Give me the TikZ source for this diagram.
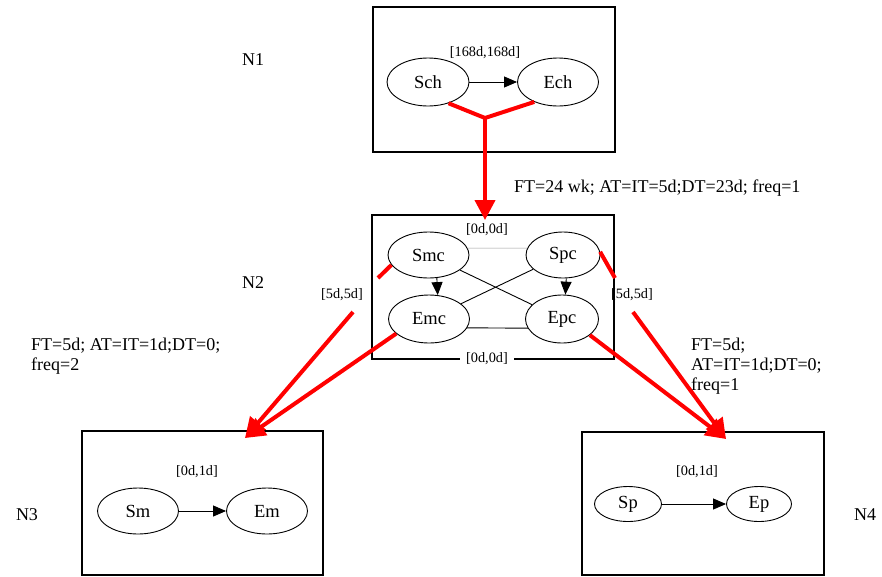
\documentclass[tikz,border=0pt]{standalone}
\usepackage{fontspec}
\setmainfont{Liberation Serif}
\usetikzlibrary{arrows.meta,calc,shapes.geometric}
\begin{document}
\begin{tikzpicture}[x=1pt,y=-1pt,
  ell/.style={draw,ellipse,inner sep=0pt,line width=0.9pt,font=\fontsize{18.5}{21}\selectfont},
  box/.style={draw,rectangle,inner sep=0pt,line width=1.2pt},
  big/.style={font=\fontsize{18}{20}\selectfont,inner sep=0pt},
  small/.style={font=\fontsize{14.3}{16}\selectfont,inner sep=1pt},
  blk/.style={line width=0.9pt},
  blkarrow/.style={line width=0.9pt,-{Triangle[length=13pt,width=11pt]}},
  redline/.style={draw=red,line width=4pt},
  redarrow/.style={draw=red,line width=4pt,-{Triangle[length=20pt,width=20pt]}},
  thin gray/.style={draw=black!40,line width=0.6pt}
]
\useasboundingbox (0,0) rectangle (882,576);

% cluster boxes
\node[box,minimum width=242pt,minimum height=145pt] (N1box) at (494,79.5) {};
\node[box,minimum width=242pt,minimum height=144pt] (N2box) at (493,287) {};
\node[box,minimum width=241pt,minimum height=144pt] (N3box) at (202.5,503) {};
\node[box,minimum width=242pt,minimum height=143pt] (N4box) at (703,503.5) {};

% cluster names
\node[big] (N1) at (253,60) {N1};
\node[big] (N2) at (253,283) {N2};
\node[big] (N3) at (27,515) {N3};
\node[big] (N4) at (865,515) {N4};

% N1
\node[ell,minimum width=82pt,minimum height=48pt] (Sch) at (428,82) {Sch};
\node[ell,minimum width=81pt,minimum height=48pt] (Ech) at (558,82) {Ech};
\node[small] (l168) at (485,53) {[168d,168d]};
\draw[blkarrow] (Sch) -- (Ech);

% N2
\node[ell,minimum width=81pt,minimum height=46pt] (Smc) at (428.5,255) {Smc};
\node[ell,minimum width=74pt,minimum height=46pt] (Spc) at (563,255) {Spc};
\node[ell,minimum width=81pt,minimum height=48pt] (Emc) at (429,319) {Emc};
\node[ell,minimum width=73pt,minimum height=48pt] (Epc) at (562,319) {Epc};
\node[small] (l00top) at (487,230) {[0d,0d]};
\draw[thin gray] (Smc.10) -- (Spc.169);
\draw[blk] (Smc) -- (Epc);
\draw[blk] (Spc) -- (Emc);
\draw[blk] (Emc.-13.5) -- (Epc.-165);
\draw[blkarrow] (Smc.-70) -- (Emc.70);
\draw[blkarrow] (Spc.-82) -- (Epc.82);
\node[small,fill=white,inner xsep=6pt] (l00bot) at (487,359) {[0d,0d]};

% N3
\node[ell,minimum width=81pt,minimum height=46pt] (Sm) at (138,511) {Sm};
\node[ell,minimum width=81pt,minimum height=46pt] (Em) at (267,511) {Em};
\node[small] (l01a) at (197,472) {[0d,1d]};
\draw[blkarrow] (Sm) -- (Em);

% N4
\node[ell,minimum width=67pt,minimum height=35pt] (Sp) at (628,504) {Sp};
\node[ell,minimum width=65pt,minimum height=35pt] (Ep) at (759,504) {Ep};
\node[small] (l01b) at (697,472) {[0d,1d]};
\draw[blkarrow] (Sp) -- (Ep);

% red connectors
\coordinate (J) at (485,118);
\coordinate (N2tip) at (485,220);
\draw[redline,line join=miter] (Sch.-46) -- (J) -- (Ech.-140);
\draw[redarrow] (J) -- (N2tip);

\coordinate (g1) at (378,278);
\coordinate (g2) at (353,312);
\coordinate (N3tip) at (245,438);
\draw[redline] (Smc.-165) -- (g1);
\draw[redarrow] (g2) -- (N3tip);
\draw[redarrow] (Emc.-156) -- (N3tip);

\coordinate (h1) at (615,278);
\coordinate (h2) at (633,312);
\coordinate (N4tip) at (726,439);
\draw[redline] (Spc.5) -- (h1);
\draw[redarrow] (h2) -- (N4tip);
\draw[redarrow] (Epc.-30) -- (N4tip);

\node[small] (l55a) at (342,295) {[5d,5d]};
\node[small] (l55b) at (632,295) {[5d,5d]};

% edge annotations
\node[big,anchor=base west] (t1) at (514,192) {FT=24 wk; AT=IT=5d;DT=23d; freq=1};
\node[big,anchor=north west,align=left] (t2) at (31,338) {FT=5d; AT=IT=1d;DT=0;\\freq=2};
\node[big,anchor=north west,align=left] (t3) at (691,338) {FT=5d;\\AT=IT=1d;DT=0;\\freq=1};
\end{tikzpicture}
\end{document}
